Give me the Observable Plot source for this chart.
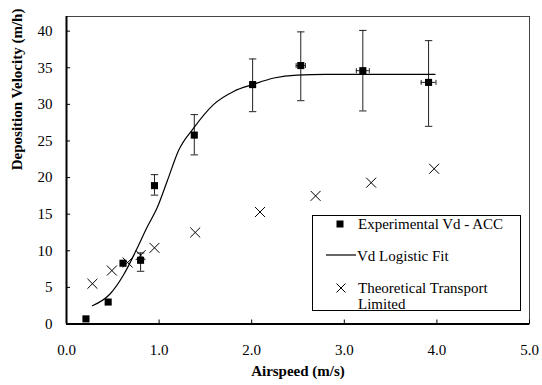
<!DOCTYPE html>
<html>
<head>
<meta charset="utf-8">
<script src="https://cdn.jsdelivr.net/npm/d3@7"></script>
<script src="https://cdn.jsdelivr.net/npm/@observablehq/plot@0.6"></script>
<style>
  html, body { margin: 0; padding: 0; background: #fff; }
  #wrap { position: relative; width: 542px; height: 385px; font-family: 'Liberation Serif', Tinos, Times, 'DejaVu Serif', serif; }
  #legend { position: absolute; left: 311.5px; top: 214.5px; width: 207px; height: 94px; border: 1px solid #000; background: #fff; font-size: 15px; color: #000; font-family: 'Liberation Serif', Tinos, Times, 'DejaVu Serif', serif; }
  #legend .row { position: absolute; left: 0; white-space: nowrap; line-height: 16px; }
  #legend svg { position: absolute; overflow: visible; }
  svg text { font-family: 'Liberation Serif', Tinos, Times, 'DejaVu Serif', serif; }
</style>
</head>
<body>
<div id="wrap">
  <div id="chart"></div>
  <div id="legend"></div>
</div>
<script>
// ---- data ----
const expX   = [0.21, 0.45, 0.61, 0.80, 0.95, 1.38, 2.01, 2.53, 3.20, 3.91];
const expY   = [0.7, 3.0, 8.3, 8.7, 18.9, 25.8, 32.7, 35.3, 34.6, 33.0];
const expLo  = [null, null, null, 7.2, 17.6, 23.1, 29.0, 30.5, 29.1, 27.0];
const expHi  = [null, null, null, 9.7, 20.4, 28.6, 36.2, 39.9, 40.1, 38.7];
const expXErr = [0, 0, 0, 0, 0, 0, 0, 0.05, 0.07, 0.08];

const fitX = [0.28, 0.47, 0.62, 0.75, 0.87, 0.98, 1.09, 1.21, 1.375, 1.59, 1.81, 2.01, 2.24, 2.49, 2.8, 3.2, 3.6, 3.98];
const fitY = [2.5, 4.1, 6.8, 10.0, 13.2, 15.9, 19.6, 23.7, 26.8, 30.0, 31.8, 32.7, 33.6, 34.0, 34.1, 34.1, 34.1, 34.1];

const theoX = [0.28, 0.49, 0.66, 0.80, 0.95, 1.39, 2.09, 2.69, 3.29, 3.97];
const theoY = [5.5, 7.3, 8.4, 9.4, 10.4, 12.5, 15.3, 17.5, 19.3, 21.2];

const xTicks = [0, 1, 2, 3, 4, 5];
const yTicks = [0, 5, 10, 15, 20, 25, 30, 35, 40];

const xTitle = "Airspeed (m/s)";
const yTitle = "Deposition Velocity (m/h)";
const legendLabels = ["Experimental Vd - ACC", "Vd Logistic Fit", "Theoretical Transport Limited"];

// ---- tables ----
const exp = expX.map((x, i) => ({x, y: expY[i], lo: expLo[i], hi: expHi[i], xe: expXErr[i]}));
const expErr = exp.filter(d => d.lo != null);
const expXE = exp.filter(d => d.xe > 0);
const fit = fitX.map((x, i) => ({x, y: fitY[i]}));
const theo = theoX.map((x, i) => ({x, y: theoY[i]}));

const capV = {draw(ctx, size) { const r = Math.sqrt(size / Math.PI); ctx.moveTo(-r, 0); ctx.lineTo(r, 0); }};
const capH = {draw(ctx, size) { const r = Math.sqrt(size / Math.PI); ctx.moveTo(0, -r); ctx.lineTo(0, r); }};
const serif = "'Liberation Serif', Tinos, Times, 'DejaVu Serif', serif";

const chart = Plot.plot({
  width: 542,
  height: 385,
  marginLeft: 66,
  marginRight: 13,
  marginTop: 16,
  marginBottom: 61.5,
  style: {fontFamily: serif, fontSize: "15px", color: "#000", background: "#fff"},
  x: {domain: [0, 5]},
  y: {domain: [0, 42]},
  marks: [
    Plot.frame({stroke: "#444", strokeWidth: 1}),
    // error bars
    Plot.ruleX(expErr, {x: "x", y1: "lo", y2: "hi", stroke: "#222", strokeWidth: 1}),
    Plot.dot(expErr, {x: "x", y: "lo", symbol: capV, r: 3.7, stroke: "#222", strokeWidth: 1}),
    Plot.dot(expErr, {x: "x", y: "hi", symbol: capV, r: 3.7, stroke: "#222", strokeWidth: 1}),
    Plot.ruleY(expXE, {y: "y", x1: d => d.x - d.xe, x2: d => d.x + d.xe, stroke: "#222", strokeWidth: 1}),
    Plot.dot(expXE, {x: d => d.x - d.xe, y: "y", symbol: capH, r: 2.5, stroke: "#222", strokeWidth: 1}),
    Plot.dot(expXE, {x: d => d.x + d.xe, y: "y", symbol: capH, r: 2.5, stroke: "#222", strokeWidth: 1}),
    // fit
    Plot.line(fit, {x: "x", y: "y", curve: "monotone-x", stroke: "#000", strokeWidth: 1.2}),
    // theoretical
    Plot.dot(theo, {x: "x", y: "y", symbol: "times", r: 4.6, stroke: "#000", strokeWidth: 1}),
    // experimental
    Plot.dot(exp, {x: "x", y: "y", symbol: "square", r: 4, fill: "#000", stroke: null}),
    // axes
    Plot.axisX(xTicks, {anchor: "bottom", label: null, tickSize: -4, tickPadding: 24, tickFormat: d => d.toFixed(1), stroke: "#000", fontSize: 15, fontFamily: serif}),
    Plot.axisY(yTicks, {anchor: "left", label: null, tickSize: -4, tickPadding: 18, tickFormat: d => String(d), stroke: "#000", fontSize: 15, fontFamily: serif}),
    Plot.ruleX([0], {stroke: "#000", strokeWidth: 2}),
    Plot.ruleY([0], {stroke: "#000", strokeWidth: 2}),
    // titles
    Plot.text([yTitle], {text: d => d, frameAnchor: "left", dx: -49, rotate: -90, fontWeight: "bold", fontSize: 15, fontFamily: serif, fill: "#000"}),
    Plot.text([xTitle], {text: d => d, frameAnchor: "bottom", dy: 52, fontWeight: "bold", fontSize: 15, fontFamily: serif, fill: "#000"})
  ]
});
document.getElementById("chart").appendChild(chart);

// ---- legend (inside plot area, lower right) ----
const lg = document.getElementById("legend");
const ox = 312.5, oy = 215.5;
function addRow(text, y, x) {
  const d = document.createElement("div");
  d.className = "row"; d.style.top = y + "px"; d.style.left = x + "px";
  d.textContent = text; lg.appendChild(d);
  return d;
}
const ns = "http://www.w3.org/2000/svg";
function icon(cx, cy, kind) {
  const s = document.createElementNS(ns, "svg");
  s.setAttribute("width", 1); s.setAttribute("height", 1);
  s.style.left = (cx - ox) + "px"; s.style.top = (cy - oy) + "px";
  if (kind === "square") {
    const r = document.createElementNS(ns, "rect");
    r.setAttribute("x", -3.5); r.setAttribute("y", -3.5); r.setAttribute("width", 7); r.setAttribute("height", 7);
    s.appendChild(r);
  } else if (kind === "line") {
    const l = document.createElementNS(ns, "line");
    l.setAttribute("x1", -15); l.setAttribute("x2", 15); l.setAttribute("y1", 0); l.setAttribute("y2", 0);
    l.setAttribute("stroke", "#000"); l.setAttribute("stroke-width", 1.2);
    s.appendChild(l);
  } else {
    const p = document.createElementNS(ns, "path");
    p.setAttribute("d", "M-4.5,-4.5L4.5,4.5M-4.5,4.5L4.5,-4.5");
    p.setAttribute("stroke", "#000"); p.setAttribute("stroke-width", 1);
    s.appendChild(p);
  }
  lg.appendChild(s);
}
icon(340, 223.5, "square");
addRow(legendLabels[0], 216 - oy, 358 - ox);
icon(341, 255, "line");
addRow(legendLabels[1], 248 - oy, 357 - ox);
icon(341, 288, "times");
addRow("Theoretical Transport", 280 - oy, 358 - ox);
addRow("Limited", 296 - oy, 358 - ox);
</script>
</body>
</html>
